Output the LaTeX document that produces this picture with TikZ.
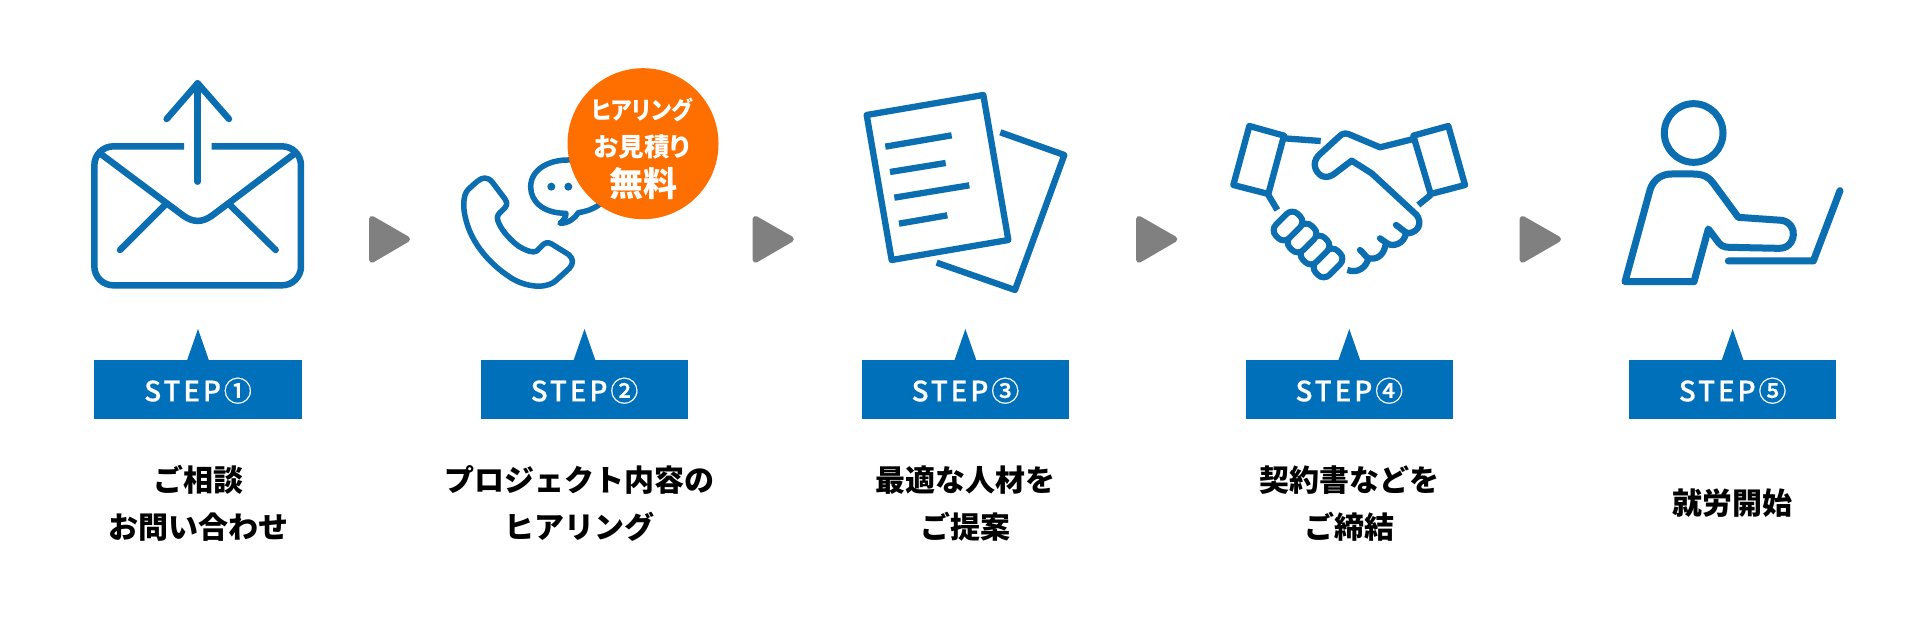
\documentclass[tikz,border=0pt]{standalone}
\usepackage{fontspec}
\usepackage{graphicx}
\newfontfamily\jp{Noto Sans CJK JP}
\newfontfamily\jpp[RawFeature=+palt]{Noto Sans CJK JP}
\newfontfamily\jpm[LetterSpace=10,FakeBold=0.5]{Noto Sans CJK JP Medium}
\definecolor{iconblue}{HTML}{0A6EB0}
\definecolor{boxblue}{HTML}{0070BB}
\definecolor{badge}{HTML}{FF6F00}
\definecolor{arrowgray}{HTML}{808080}
\tikzset{
 icon/.style={draw=iconblue,line join=round,line cap=round,fill=none},
 zoomed/.style 2 args={xshift=#1 pt,yshift=-#2 pt,x=0.33333pt,y=-0.33333pt},
 nexttri/.style={draw=arrowgray,fill=arrowgray,line width=6pt,line join=round},
 stepbox/.style={fill=boxblue,draw=none},
 steptext/.style={text=white,font=\jpm\fontsize{28}{28}\selectfont,anchor=center,inner sep=0pt},
 caption/.style={text=black,font=\jp\bfseries\fontsize{30}{30}\selectfont,anchor=center,inner sep=0pt},
 badgetext/.style={text=white,font=\jpp\bfseries,anchor=center,inner sep=0pt},
 knuckle/.style={draw=iconblue,line width=6pt,rounded corners=8pt,rotate=45,minimum width=31pt,minimum height=19pt,inner sep=0pt,fill=white},
}
\begin{document}
\begin{tikzpicture}[x=1pt,y=-1pt]
\useasboundingbox[fill=white] (0,0) rectangle (1920,620);
% envelope
\begin{scope}[zoomed={60}{50},icon,line width=6.5pt]
 \draw[line cap=butt,rounded corners=19pt] (372,289) -- (103,289) -- (103,706) -- (723,706) -- (723,289) -- (455,289);
 \draw (413,395) -- (413,100);
 \draw (320,207) -- (413,100) -- (507,207);
 \draw (120,310) -- (370,497) .. controls (400,518) and (426,518) .. (456,497) -- (705,310);
 \draw (315,465) -- (180,600);
 \draw (510,465) -- (647,600);
\end{scope}
% phone
\begin{scope}[zoomed={440}{50},icon,line width=5.5pt]
 \draw (134,384) .. controls (120,384) and (105,400) .. (85,418)
  .. controls (68,435) and (68,475) .. (78,510)
  .. controls (95,580) and (150,645) .. (220,688)
  .. controls (270,715) and (325,715) .. (350,690)
  -- (388,655) .. controls (402,640) and (400,625) .. (385,613)
  -- (335,582) .. controls (322,575) and (315,578) .. (305,588)
  -- (290,603) .. controls (280,610) and (260,603) .. (235,588)
  .. controls (205,565) and (180,535) .. (173,510)
  .. controls (170,498) and (175,492) .. (185,483)
  .. controls (200,470) and (205,462) .. (195,447)
  -- (158,398) .. controls (150,388) and (143,384) .. (134,384) -- cycle;
 \draw (480,462) .. controls (460,478) and (440,484) .. (415,488)
  .. controls (405,505) and (385,520) .. (360,520)
  .. controls (372,510) and (378,500) .. (378,490)
  .. controls (310,490) and (272,455) .. (272,410)
  .. controls (272,360) and (325,328) .. (390,330);
 \fill[iconblue] (334,410) circle[radius=12];
 \fill[iconblue] (385,410) circle[radius=12];
\end{scope}
\node[circle,fill=badge,draw=none,minimum size=151pt,inner sep=0pt] (badgecircle) at (643,143.7) {};
\node[badgetext] (badge1) at (642,110) {\fontsize{24.5}{24.5}\selectfont\scalebox{0.9}[1]{ヒアリング}};
\node[badgetext] (badge2) at (642,146.7) {\fontsize{25.5}{25.5}\selectfont お見積り};
\node[badgetext] (badge3) at (643,184) {\fontsize{34}{34}\selectfont 無料};
% documents
\begin{scope}[zoomed={820}{70},icon,line width=6.3pt]
 \draw (140,135) -- (490,75) -- (565,510) -- (215,570) -- cycle;
 \draw[line cap=butt] (541,187) -- (733,255) -- (585,660) -- (350,578);
 \draw[line cap=butt] (196,230) -- (395,196);
 \draw[line cap=butt] (210,306) -- (377,279);
 \draw[line cap=butt] (223,383) -- (448,346);
 \draw[line cap=butt] (237,461) -- (382,436);
\end{scope}
% handshake
\begin{scope}[zoomed={1200}{90},icon,line width=6.3pt]
 \draw (148,108) -- (252,137) -- (205,312) -- (100,285) -- cycle;
 \draw (745,108) -- (640,137) -- (692,312) -- (795,285) -- cycle;
 \draw[line cap=butt] (252,145) -- (362,153);
 \draw[line cap=butt] (205,315) -- (232,360);
 \draw[line cap=butt] (692,315) -- (655,345);
 \draw (640,147) -- (540,172) -- (445,132) .. controls (432,128) and (425,132) .. (415,142)
  -- (355,197) .. controls (335,220) and (345,245) .. (365,258)
  .. controls (380,265) and (395,258) .. (405,250)
  -- (455,212) -- (515,250) -- (650,375)
  .. controls (665,395) and (660,425) .. (625,430)
  .. controls (610,425) and (600,412) .. (588,405);
 \draw (618,430) .. controls (612,462) and (580,470) .. (565,462)
  .. controls (555,458) and (550,450) .. (540,445);
 \draw (556,467) .. controls (550,500) and (525,510) .. (505,505)
  .. controls (495,498) and (490,488) .. (480,480);
 \draw[line cap=butt] (505,505) .. controls (500,530) and (475,552) .. (442,540);
\end{scope}
\node[knuckle] (k4) at (1328,263) {};
\node[knuckle] (k3) at (1315,250) {};
\node[knuckle] (k2) at (1302,238) {};
\node[knuckle] (k1) at (1288,226) {};
% person
\begin{scope}[zoomed={1500}{80},icon,line width=7pt]
 \draw (581,159) circle[radius=88];
 \draw (375,605) -- (450,330) .. controls (460,298) and (485,282) .. (515,282)
  -- (580,282) .. controls (610,282) and (628,292) .. (640,310)
  -- (715,412) -- (845,421) .. controls (870,425) and (882,445) .. (880,465)
  .. controls (878,490) and (860,506) .. (835,505)
  -- (690,502) .. controls (668,502) and (660,495) .. (650,480)
  -- (625,447) -- (582,605) -- cycle;
 \draw (685,543) -- (940,543) -- (1020,332);
\end{scope}
% next arrows
\draw[nexttri] (372,219) -- (372,259.7) -- (407,239.2) -- cycle;
\draw[nexttri] (755.5,219) -- (755.5,259.7) -- (790.8,239.2) -- cycle;
\draw[nexttri] (1139,219) -- (1139,259.7) -- (1174.3,239.2) -- cycle;
\draw[nexttri] (1522.5,219) -- (1522.5,259.7) -- (1558,239.2) -- cycle;
% step boxes
\foreach \cx/\nm/\num in {198/one/①,584.5/two/②,965.4/three/③,1349.3/four/④,1732.6/five/⑤}{
 \fill[boxblue] (\cx-11,360.5) -- (\cx,329) -- (\cx+11,360.5) -- cycle;
 \fill[boxblue] (\cx-103.7,360) rectangle (\cx+103.7,419.3);
 \node[steptext] (step\nm) at (\cx,390.7) {STEP\num};
}
% captions
\node[caption] (c1a) at (198,480) {ご相談};
\node[caption] (c1b) at (198,526.7) {お問い合わせ};
\node[caption] (c2a) at (579.5,480) {プロジェクト内容の};
\node[caption] (c2b) at (579.5,526.7) {ヒアリング};
\node[caption] (c3a) at (965.4,480) {最適な人材を};
\node[caption] (c3b) at (965.4,526.7) {ご提案};
\node[caption] (c4a) at (1349.3,480) {契約書などを};
\node[caption] (c4b) at (1349.3,526.7) {ご締結};
\node[caption] (c5a) at (1732.6,503) {就労開始};
\end{tikzpicture}
\end{document}
